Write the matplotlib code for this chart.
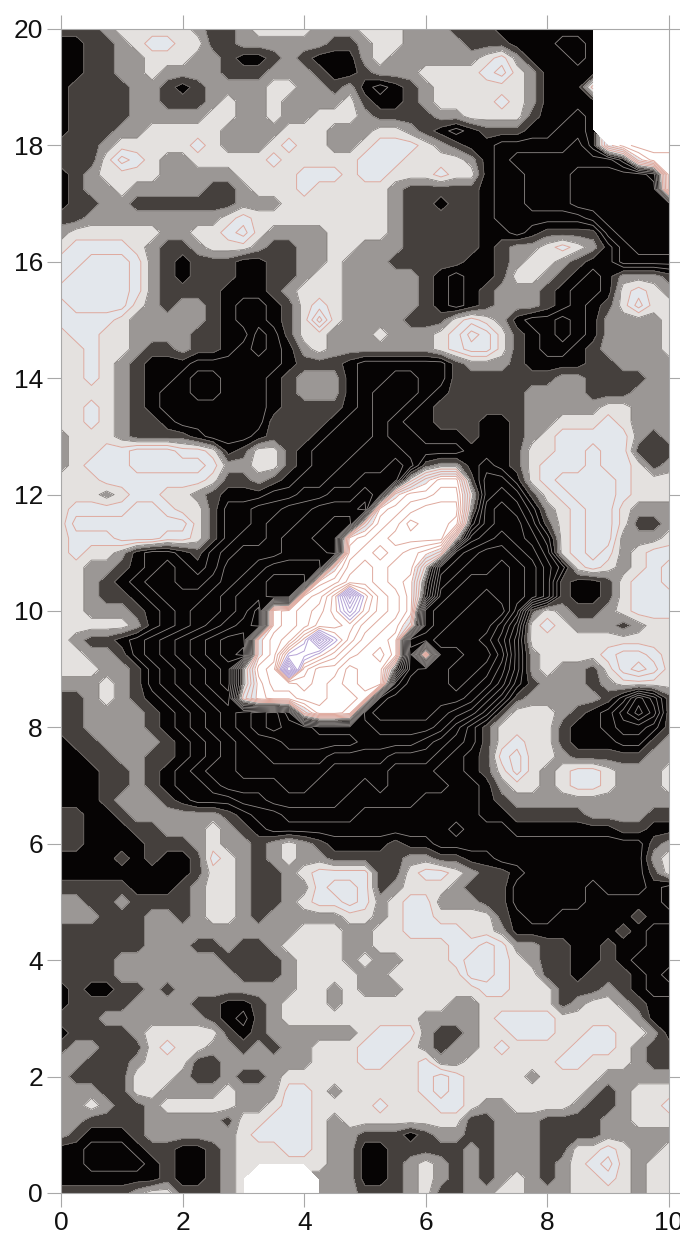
import numpy as np
import matplotlib
matplotlib.use('Agg')
from matplotlib import pyplot as plt

# values, one row per y step of 0.25 from y=20 down to y=0,
# one character per x step of 0.25. '.' = blanked area
rows = [
    "1112 3333 3211 2333 3222 3332 2211 1000 0000 .... .",
    "0011 2344 3311 2222 2211 2332 2221 1100 0aa0 .... .",
    "0011 2233 3221 0012 1000 2322 2222 3420 00a0 .... .",
    "0011 2232 2221 1122 2100 1222 3333 4532 0000 .... .",
    "0111 1221 0122 2233 2212 0a01 2333 3332 0004 .... .",
    "0111 1221 1123 2232 2223 1001 2333 3432 0000 .... .",
    "0111 1222 2233 2232 2333 2111 1223 3331 00a0 .... .",
    "0111 2233 3332 2223 3322 2332 10a0 1110 0aa0 .... .",
    "1112 3333 3432 2234 3322 3444 3210 0aaa aab0 6899 9",
    "1113 5432 2333 3343 3333 4443 3332 0abb bbbb b068 8",
    "0123 3332 2222 3333 4443 4433 3433 0aab bbcc cccb 8",
    "0122 3222 2211 2333 4333 3321 1111 0aab bbcc cccc 8",
    "0112 2111 1111 2223 3333 3321 1011 0aab bbcc cccc c",
    "1122 2222 2223 4333 3333 3321 1111 0aaa aaab cccc c",
    "2333 3332 2334 5322 2233 3321 1111 00a0 1111 bccc c",
    "3444 4321 1233 3211 2233 2221 1111 0122 3432 0bcc c",
    "4455 5421 0111 0011 2232 2211 1110 0123 3210 0bbb b",
    "4555 5421 0111 0011 2332 2222 10a0 0133 210a 0222 1",
    "5555 5421 1110 0012 3332 2222 10a0 1222 10aa 0343 2",
    "4555 5321 2210 aa01 3432 2222 10a0 1222 10a0 1353 3",
    "4444 3222 2210 aa01 3632 2221 1134 320a aba0 2222 3",
    "3443 3222 2110 0ba1 3322 2322 2346 5310 aba0 2222 3",
    "3343 3211 2110 aba0 2322 2222 2345 5310 aa01 2222 3",
    "3343 2100 0aaa aaa0 1110 aaaa aa12 2210 0001 1222 2",
    "3343 2100 abba aa01 2220 aabb aa11 1111 1221 1112 2",
    "3333 210a abba aa01 2220 abbb a011 1112 2221 1122 2",
    "3343 210a aaaa aa01 1110 abba 0111 1112 2222 3322 2",
    "3343 2110 aaaa aa11 110a aba0 0111 0012 2333 4322 2",
    "2333 2111 10aa a011 10aa abaa 0001 0012 3444 4421 2",
    "2334 4555 4430 1331 0aaa bbba aaa0 0013 3445 4411 1",
    "2344 4555 5542 2331 0aab bbcb 1220 a013 4445 4431 2",
    "3334 4444 4431 1210 aabb ccc3 6881 bb03 4555 5433 3",
    "3332 3443 3210 00aa bbcc dc68 8993 bcb1 3455 5433 3",
    "3444 4554 331a abbc cddd e789 AAA2 cdca 2345 5322 2",
    "3555 5555 531a abcc ddee 589B AA90 cddb 1345 5311 2",
    "3444 5554 431a bbcd dee7 89AA AA3c dedc a345 5222 3",
    "3433 20aa 01ab cccd dde8 9A98 75de ffed b345 4234 4",
    "3322 10ab a0ac cdee ee69 A988 3def fgfe ca34 3234 5",
    "3321 0abb aabc deff f78A A987 1efg ggfe c100 1344 5",
    "3321 10ab bbcd eeff 89CJ DA97 0fgg hgfe c100 1344 4",
    "3322 210a bccd eg78 9ACG CA97 fggh hhe1 3211 2344 4",
    "3333 320a bcde fg78 9BBC A985 fghh hfc3 4322 2123 3",
    "3211 0abc defg g689 DJEB 987g ghhh geb3 3333 3333 3",
    "3322 1abc defg h68E FDB9 897f 6ggh hfb2 3333 4554 3",
    "3332 21ab cdef 289K B997 881f gghh geb2 3221 3565 3",
    "2223 21ab cdef 2799 A987 88eg gghg fda1 2221 2333 3",
    "1123 210a bcde 4788 9988 7fgg gggf db12 2222 1adb 1",
    "1122 2210 abcd efge 5887 fggg gfed b133 3210 acec 1",
    "1122 2210 abcd efgf feee efff feca 1333 3100 abba 1",
    "0112 2221 0abc deef ffff eeee dcba 1343 3100 0aa1 2",
    "0011 2211 0abc ddee eedd ddcc cba0 1453 3211 1112 2",
    "0001 1210 abcc dddd ddcc ccbb baa0 1353 2344 3222 3",
    "0001 1210 aabc cccd dccc bcbb bbaa 0233 2344 3222 3",
    "0001 2221 0aaa bbcc cccb bbbb aaaa 0122 2222 2222 2",
    "1100 1222 2221 0aab bbbb aaaa aaaa 0011 1112 2221 1",
    "1100 0112 2232 10aa aaaa aaaa aaba aa00 0000 0110 0",
    "1100 0011 1232 2123 2100 0010 0aaa aaaa aaaa aaa1 2",
    "0000 1010 0143 2123 2211 1112 2110 0aaa aaaa aaa2 3",
    "0000 0000 0133 2112 3444 4113 4432 110a aaaa aaa1 3",
    "1111 1000 1233 2112 2455 4123 3321 11aa aaa0 aaa0 a",
    "2211 2111 1233 2112 3445 4234 4222 11aa aaa0 0000 a",
    "2221 1122 1233 2122 2223 3234 4333 310a a000 0010 0",
    "1111 1122 2222 2222 3332 2334 4443 3200 0000 010a a",
    "1111 1122 2112 1123 3332 2333 3344 5422 1100 100a a",
    "1111 2222 2221 1112 3332 3223 3345 5432 1100 10aa a",
    "1111 2222 2222 1112 3333 2233 3335 5433 1101 110a b",
    "0100 1121 2222 2222 3323 2223 3333 4433 3111 210a a",
    "0111 1222 2110 0123 3323 3333 3322 3333 3123 3210 0",
    "1112 2222 2210 a123 3333 3333 2222 3444 4333 3320 0",
    "0111 1233 3331 0122 2222 3444 2112 3344 4334 4332 0",
    "1221 1134 3322 1212 2333 4443 2122 3433 3344 4321 1",
    "2211 1233 3112 2222 2333 4433 4223 3333 3443 3321 1",
    "2111 1333 2112 1123 3333 3333 4543 3332 3333 2222 2",
    "2221 1332 2223 2224 4323 3333 4543 3333 3332 1233 3",
    "2232 1123 3333 2234 4333 3433 3443 2233 3321 1233 4",
    "2211 1122 2221 3344 4323 3333 3331 1222 1111 2233 3",
    "2100 0122 2222 3444 4322 1110 1221 1222 1111 2222 2",
    "00aa a011 0012 3334 4322 0011 1112 1222 1133 4322 3",
    "00aa aa01 0012 3333 3322 0012 3212 1222 1234 5323 3",
    "0000 0001 0012 3... .222 0012 3212 1232 1233 4323 3",
    "1111 1233 1112 3... .222 1112 3112 2332 2233 3323 3",
]
high = "0123456789ABCDEFGHIJK"
low = "abcdefgh"

xticks = [0, 2, 4, 6, 8, 10]
yticks = [0, 2, 4, 6, 8, 10, 12, 14, 16, 18, 20]

fill_levels = [-100, 0.5, 1.5, 2.5, 3.5, 6.5, 100]
fill_colors = ['#060404', '#45403d', '#9b9795', '#e4e1df', '#e3e7ec', '#ffffff']
black_levels = [-7.5, -6.5, -5.5, -4.5, -3.5, -2.5, -1.5, -0.5]
edge_levels = [0.5, 1.5, 2.5]
red_levels = [3.5, 4.5, 5.5, 6.5, 7.5, 8.5, 9.5, 10.5, 11.5, 12.5]
purple_levels = [13.5, 14.5, 15.5, 16.5, 17.5, 18.5]


def value(c):
    if c == '.':
        return np.nan
    if c in low:
        return -(low.index(c) + 1)
    return high.index(c)


z = np.array([[value(c) for c in r.replace(' ', '')] for r in rows], dtype=float)
z = np.ma.masked_invalid(z)
xs = np.linspace(0, 10, z.shape[1])
ys = np.linspace(20, 0, z.shape[0])

plt.rcParams['font.family'] = ['Liberation Sans', 'DejaVu Sans']
plt.rcParams['contour.negative_linestyle'] = 'solid'

fig = plt.figure(figsize=(6.8, 12.35), dpi=100)
ax = fig.add_axes([61 / 680, 42 / 1235, 608 / 680, 1164 / 1235])

ax.contourf(xs, ys, z, levels=fill_levels, colors=fill_colors)
ax.contour(xs, ys, z, levels=black_levels, colors='#8f8a88', linewidths=0.6)
ax.contour(xs, ys, z, levels=edge_levels, colors='#77726f', linewidths=0.5)
ax.contour(xs, ys, z, levels=red_levels, colors='#dfa99d', linewidths=0.7)
ax.contour(xs, ys, z, levels=purple_levels, colors='#b5a3d6', linewidths=0.7)

ax.set_xlim(0, 10)
ax.set_ylim(0, 20)
ax.set_xticks(xticks)
ax.set_yticks(yticks)
ax.tick_params(axis='both', direction='out', length=10, width=0.8, color='#a8a8a8',
               labelsize=19, labelcolor='#111111', top=True, right=True)
ax.tick_params(axis='x', pad=3)
ax.tick_params(axis='y', pad=3)
for s in ax.spines.values():
    s.set_color('#a8a8a8')
    s.set_linewidth(0.8)

fig.savefig('out.png', dpi=100)
